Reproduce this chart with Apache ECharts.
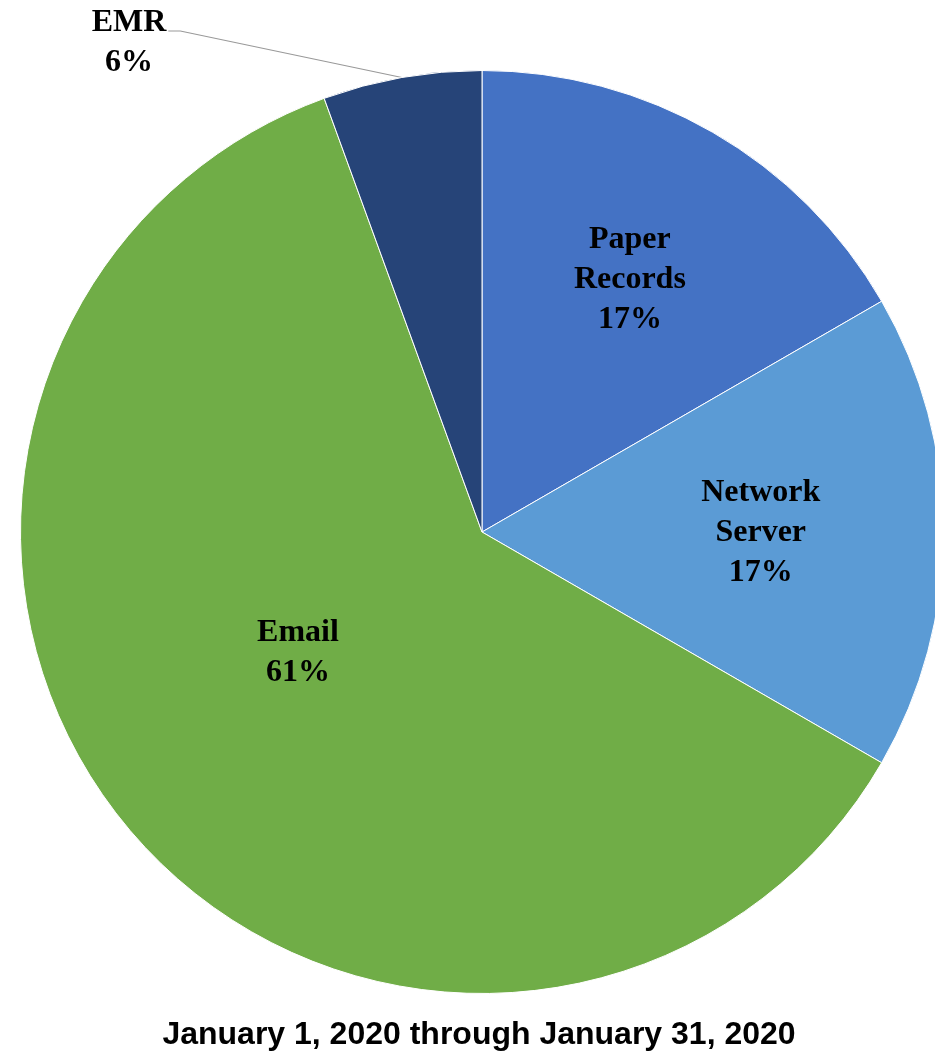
<!DOCTYPE html>
<html>
<head>
<meta charset="utf-8">
<script src="https://cdn.jsdelivr.net/npm/echarts@6/dist/echarts.min.js"></script>
<style>
  html, body { margin: 0; padding: 0; background: #fff; }
  #chart { width: 935px; height: 1055px; }
</style>
</head>
<body>
<div id="chart"></div>
<script>
// incident counts by source (labels show rounded share)
const categories = ['Paper Records', 'Network Server', 'Email', 'EMR'];
const counts = [3, 3, 11, 1];
const colors = ['#4472C4', '#5B9BD5', '#70AD47', '#264478'];
const titleText = 'January 1, 2020 through January 31, 2020';

// nudges from the default inside spot, like Excel's best-fit labels
const labelShift = [[31, -50], [45, 1], [-5, -30], null];

const chart = echarts.init(document.getElementById('chart'));

const option = {
  animation: false,
  title: {
    text: titleText,
    left: 474,
    top: 1014,
    textAlign: 'center',
    textStyle: {
      fontFamily: 'Liberation Sans, Arial, sans-serif',
      fontWeight: 'bold',
      fontSize: 32,
      color: '#000'
    }
  },
  series: [{
    type: 'pie',
    center: [482, 532],
    radius: 461.5,
    startAngle: 90,
    clockwise: true,
    avoidLabelOverlap: false,
    itemStyle: { borderColor: '#fff', borderWidth: 1 },
    label: {
      position: 'inside',
      fontFamily: 'Liberation Serif, Times New Roman, serif',
      fontWeight: 'bold',
      fontSize: 32,
      lineHeight: 40,
      color: '#000',
      formatter: function (p) {
        return p.name.replace(' ', '\n') + '\n' + Math.round(p.percent) + '%';
      }
    },
    labelLine: { show: false },
    labelLayout: function (p) {
      const s = labelShift[p.dataIndex];
      if (s) return { dx: s[0], dy: s[1] };
      // EMR: label at top-left, leader from the slice edge
      const cx = 129, cy = 43;
      const right = cx + p.labelRect.width / 2 + 2;
      const ly = cy - 12;
      const start = p.labelLinePoints ? p.labelLinePoints[0] : [402, 77];
      return {
        x: cx, y: cy, align: 'center', verticalAlign: 'middle',
        labelLinePoints: [start, [right + 12, ly], [right, ly]]
      };
    },
    data: categories.map(function (name, i) {
      const item = { name: name, value: counts[i], itemStyle: { color: colors[i] } };
      if (name === 'EMR') {
        item.label = { position: 'outside' };
        item.labelLine = { show: true, length: 20, length2: 10, lineStyle: { color: '#999999', width: 1.2 } };
      }
      return item;
    })
  }]
};

chart.setOption(option);
</script>
</body>
</html>
